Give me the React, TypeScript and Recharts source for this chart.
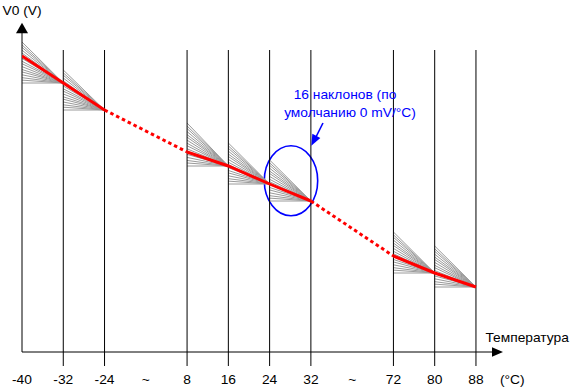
import React from "react";
import {
  ComposedChart,
  Line,
  XAxis,
  YAxis,
  ReferenceLine,
  ReferenceDot,
  ReferenceArea,
} from "recharts";

// ---- data ----
const tempLabels = ["-40", "-32", "-24", "~", "8", "16", "24", "32", "~", "72", "80", "88"];
const slotIndex = [0, 1, 2, 3, 4, 5, 6, 7, 8, 9, 10, 11];
const unitLabel = "(°C)";
const unitSlot = 11.88;
// V0 along the default line (arbitrary units, x-axis = 0)
const v0Red: (number | null)[] = [296, 269, 242, null, 200, 186, 168, 151, null, 96, 79, 65];
const solidRuns = [[0, 1, 2], [4, 5, 6, 7], [9, 10, 11]];
const dashedRuns = [[2, 4], [7, 9]];
// fans of 16 slopes: starting slot and V0 of the steepest slope at the left edge
const fanStarts = [0, 1, 4, 5, 6, 9, 10];
const fanTops = [310, 282, 229, 209, 192, 120, 106];
const slopeFractions = [0, 0.07, 0.13, 0.2, 0.27, 0.33, 0.4, 0.47, 0.53, 0.6, 0.67, 0.73, 0.8, 0.87, 0.93, 1];
const gridSlots = [1, 2, 4, 5, 6, 7, 9, 10, 11];

const FONT = "'Liberation Sans', Arial, sans-serif";
const BLUE = "#0000ff";

type Row = { x: number; v: number | null };

function runsToData(runs: number[][]): Row[] {
  const rows: Row[] = [];
  runs.forEach((run) => {
    run.forEach((i) => rows.push({ x: i, v: v0Red[i] }));
    rows.push({ x: run[run.length - 1], v: null });
  });
  return rows;
}

function fanData(f: number): Row[] {
  const rows: Row[] = [];
  fanStarts.forEach((s, j) => {
    const bottom = v0Red[s + 1] as number;
    rows.push({ x: s, v: bottom + f * (fanTops[j] - bottom) });
    rows.push({ x: s + 1, v: bottom });
    rows.push({ x: s + 1, v: null });
  });
  return rows;
}

const solidData = runsToData(solidRuns);
const dashedData = runsToData(dashedRuns);
const tickPositions = [...slotIndex, unitSlot];
const tickLabels = [...tempLabels, unitLabel];

const SText = ({ x, y, text, color = "#000", anchor = "middle" }: any) => (
  <text
    transform={`translate(${x},${y}) scale(1.15,1)`}
    textAnchor={anchor}
    fontFamily={FONT}
    fontSize={12}
    fill={color}
  >
    {text}
  </text>
);

const TickLabel = (props: any) => {
  const { x, y, index } = props;
  return <SText x={x} y={y + 18} text={tickLabels[index]} />;
};

const arrowHead = (angle: number, len: number, wid: number, color: string) => (p: any) => (
  <polygon
    points={`0,0 ${-len},${-wid / 2} ${-len},${wid / 2}`}
    transform={`translate(${p.cx},${p.cy}) rotate(${angle})`}
    fill={color}
    stroke="none"
  />
);

const textShape = (text: string, color: string) => (p: any) => (
  <SText x={p.cx} y={p.cy} text={text} color={color} />
);

export default function App() {
  return (
    <div style={{ position: "absolute", left: 0, top: 0, width: 572, height: 390, background: "#fff" }}>
      <ComposedChart
        width={572}
        height={390}
        margin={{ top: 0, right: 13.5, bottom: 0, left: 22 }}
      >
        <XAxis
          dataKey="x"
          type="number"
          domain={[0, 13]}
          ticks={tickPositions}
          interval={0}
          tick={<TickLabel />}
          axisLine={false}
          tickLine={false}
          tickSize={0}
          tickMargin={0}
          height={24}
          allowDataOverflow
        />
        <YAxis type="number" domain={[-14, 352]} hide allowDataOverflow />

        {slopeFractions.map((f, k) => (
          <Line
            key={"fan" + k}
            data={fanData(f)}
            dataKey="v"
            type="linear"
            stroke="#9a9a9a"
            strokeWidth={1}
            dot={false}
            activeDot={false}
            connectNulls={false}
            isAnimationActive={false}
          />
        ))}

        {gridSlots.map((i) => (
          <ReferenceLine
            key={"g" + i}
            segment={[{ x: i, y: 302 }, { x: i, y: -14 }]}
            stroke="#000"
            strokeWidth={1}
            ifOverflow="visible"
          />
        ))}
        {/* axes */}
        <ReferenceLine segment={[{ x: 0, y: 0 }, { x: 0, y: 320 }]} stroke="#000" strokeWidth={1} ifOverflow="visible" />
        <ReferenceLine segment={[{ x: 0, y: 0 }, { x: 11.4, y: 0 }]} stroke="#000" strokeWidth={1} ifOverflow="visible" />
        <ReferenceDot x={0} y={329.3} r={0} ifOverflow="visible" shape={arrowHead(-90, 10.5, 12, "#000")} />
        <ReferenceDot x={11.655} y={0} r={0} ifOverflow="visible" shape={arrowHead(0, 11, 9.5, "#000")} />

        <Line
          data={dashedData}
          dataKey="v"
          type="linear"
          stroke="#ff0000"
          strokeWidth={3}
          strokeDasharray="3.5 3"
          dot={false}
          activeDot={false}
          connectNulls={false}
          isAnimationActive={false}
        />
        <Line
          data={solidData}
          dataKey="v"
          type="linear"
          stroke="#ff0000"
          strokeWidth={3}
          dot={false}
          activeDot={false}
          connectNulls={false}
          isAnimationActive={false}
        />

        {/* callout */}
        <ReferenceArea
          x1={5.871}
          x2={7.165}
          y1={136.3}
          y2={206.3}
          ifOverflow="visible"
          shape={(p: any) => (
            <ellipse
              cx={p.x + p.width / 2}
              cy={p.y + p.height / 2}
              rx={p.width / 2}
              ry={p.height / 2}
              fill="none"
              stroke={BLUE}
              strokeWidth={1.6}
            />
          )}
        />
        <ReferenceLine
          segment={[{ x: 7.293, y: 229 }, { x: 7.124, y: 215 }]}
          stroke={BLUE}
          strokeWidth={1.6}
          ifOverflow="visible"
        />
        <ReferenceDot x={7.01} y={206.3} r={0} ifOverflow="visible" shape={arrowHead(117.3, 11, 9, BLUE)} />

        {/* texts */}
        <ReferenceDot x={0} y={337.5} r={0} ifOverflow="visible" shape={textShape("V0 (V)", "#000")} />
        <ReferenceDot x={12.24} y={10.3} r={0} ifOverflow="visible" shape={textShape("Температура", "#000")} />
        <ReferenceDot x={7.826} y={252.7} r={0} ifOverflow="visible" shape={textShape("16 наклонов (по", BLUE)} />
        <ReferenceDot x={7.948} y={235} r={0} ifOverflow="visible" shape={textShape("умолчанию 0 mV/°C)", BLUE)} />
      </ComposedChart>
    </div>
  );
}
